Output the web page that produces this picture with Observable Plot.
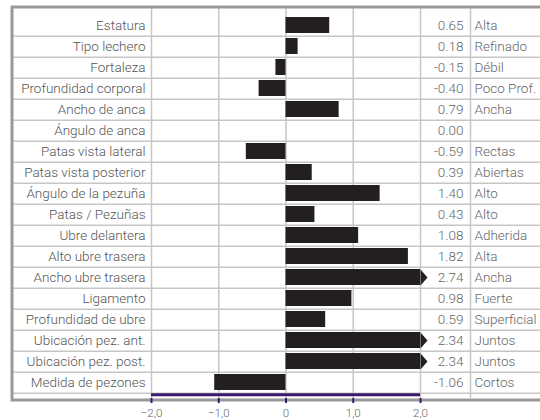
<!DOCTYPE html>
<html><head><meta charset="utf-8">
<script src="https://cdn.jsdelivr.net/npm/d3@7"></script>
<script src="https://cdn.jsdelivr.net/npm/@observablehq/plot@0.6"></script>
<style>body{margin:0;background:#fff} svg{display:block}</style>
</head><body><div id="chart"></div>
<script>
const traits = ["Estatura","Tipo lechero","Fortaleza","Profundidad corporal","Ancho de anca","Ángulo de anca","Patas vista lateral","Patas vista posterior","Ángulo de la pezuña","Patas / Pezuñas","Ubre delantera","Alto ubre trasera","Ancho ubre trasera","Ligamento","Profundidad de ubre","Ubicación pez. ant.","Ubicación pez. post.","Medida de pezones"];
const values = [0.65,0.18,-0.15,-0.40,0.79,0.00,-0.59,0.39,1.40,0.43,1.08,1.82,2.74,0.98,0.59,2.34,2.34,-1.06];
const descriptors = ["Alta","Refinado","Débil","Poco Prof.","Ancha","","Rectas","Abiertas","Alto","Alto","Adherida","Alta","Ancha","Fuerte","Superficial","Juntos","Juntos","Cortos"];
const xTicks = [-2,-1,0,1,2];
const xMin = -2, xMax = 2;

const data = traits.map((t,i)=>({trait:t, value:values[i], desc:descriptors[i]}));
const W=540, H=420, mt=8, mb=22, ml=13, mr=0;
const step = (H-mt-mb)/traits.length;
const dark = "#231f20", purple = "#3b1a6b", grid = "#c6c6c6";
const arrow = {draw(ctx){ctx.moveTo(0,-8);ctx.lineTo(7,0);ctx.lineTo(0,8);ctx.closePath();}};
const fmtTick = d => d === 0 ? "0" : d3.format(".1f")(d).replace(".", ",");

const chart = Plot.plot({
  width: W, height: H, marginTop: mt, marginBottom: mb, marginLeft: ml, marginRight: mr,
  style: {fontFamily: "Roboto, sans-serif", fontSize: "13.5px", fontWeight: 300, background: "#fff"},
  x: {domain: [xMin, xMax], range: [151, 420], axis: null},
  y: {domain: traits, paddingInner: 0.26, paddingOuter: 0.13, axis: null},
  marks: [
    Plot.ruleY(traits, {dy: step/2, stroke: grid, strokeWidth: 1.5}),
    Plot.ruleX(xTicks, {stroke: grid, strokeWidth: 1.5}),
    Plot.ruleX([xMax], {dx: 50, stroke: grid, strokeWidth: 1.5}),
    Plot.barX(data, {x1: 0, x2: d => Math.max(xMin, Math.min(xMax, d.value)), y: "trait", fill: dark}),
    Plot.dot(data.filter(d => d.value > xMax), {x: xMax, y: "trait", symbol: arrow, r: 8, fill: dark, stroke: "none"}),
    Plot.text(data, {x: xMin, y: "trait", text: "trait", dx: -6, textAnchor: "end", fill: "#555"}),
    Plot.text(data, {x: xMax, y: "trait", text: d => d.value.toFixed(2), dx: 43, textAnchor: "end", fill: "#666"}),
    Plot.text(data, {x: xMax, y: "trait", text: "desc", dx: 54, textAnchor: "start", fill: "#666"}),
    Plot.frame({stroke: "#999", strokeWidth: 3, inset: -1.5}),
    Plot.ruleY([traits[traits.length-1]], {x1: xMin, x2: xMax, dy: step/2 + 1.5, stroke: purple, strokeWidth: 3}),
    Plot.axisX({ticks: xTicks, tickSize: 5, tickPadding: 5, stroke: purple, strokeWidth: 2, fill: "#666", fontSize: 11.5, tickFormat: fmtTick})
  ]
});
document.getElementById("chart").append(chart);
</script>
</body></html>
